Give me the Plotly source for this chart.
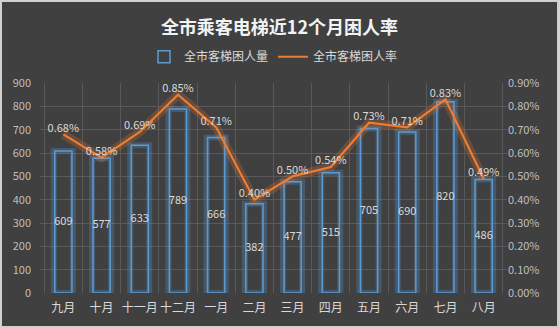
import plotly.graph_objects as go

months = ["九月", "十月", "十一月", "十二月", "一月", "二月", "三月", "四月", "五月", "六月", "七月", "八月"]
trapped_count = [609, 577, 633, 789, 666, 382, 477, 515, 705, 690, 820, 486]
trapped_rate = [0.0068, 0.0058, 0.0069, 0.0085, 0.0071, 0.0040, 0.0050, 0.0054, 0.0073, 0.0071, 0.0083, 0.0049]

FONT = "Noto Sans CJK SC, Microsoft YaHei, sans-serif"
TXT = "#d9d9d9"
BLUE = "#5b9bd5"
ORANGE = "#ed7d31"
GRID = "#595959"

fig = go.Figure()

# bar glow
fig.add_trace(go.Bar(x=months, y=trapped_count, width=0.5, showlegend=False, hoverinfo="skip",
                     marker=dict(color="rgba(0,0,0,0)", line=dict(color="rgba(91,155,213,0.28)", width=6))))
fig.add_trace(go.Bar(x=months, y=trapped_count, width=0.45, name="全市客梯困人量",
                     marker=dict(color="rgba(0,0,0,0)", line=dict(color=BLUE, width=1.5))))
# bar labels centred in bars
fig.add_trace(go.Scatter(x=months, y=[v / 2 for v in trapped_count], mode="text",
                         text=[str(v) for v in trapped_count], showlegend=False, hoverinfo="skip",
                         textfont=dict(color=TXT, size=11, family=FONT)))
# line glow
fig.add_trace(go.Scatter(x=months, y=trapped_rate, yaxis="y2", mode="lines", showlegend=False, hoverinfo="skip",
                         line=dict(color="rgba(237,125,49,0.22)", width=9)))
fig.add_trace(go.Scatter(x=months, y=trapped_rate, yaxis="y2", mode="lines+text", name="全市客梯困人率",
                         text=[f"{v*100:.2f}%" for v in trapped_rate], textposition="top center",
                         textfont=dict(color=TXT, size=11, family=FONT),
                         line=dict(color=ORANGE, width=2.2)))

fig.update_layout(
    width=559, height=328,
    paper_bgcolor="#404040", plot_bgcolor="#404040",
    margin=dict(l=40, r=52, t=83, b=35, autoexpand=False),
    barmode="overlay",
    font=dict(family=FONT, color=TXT, size=11),
    title=dict(text="<b>全市乘客电梯近12个月困人率</b>", x=0.5, xanchor="center", y=0.915, yanchor="middle",
               font=dict(size=18, color="#f2f2f2", family=FONT)),
    legend=dict(orientation="h", x=0.5, xanchor="center", y=1.125, yanchor="middle",
                font=dict(size=12, color=TXT, family=FONT), bgcolor="rgba(0,0,0,0)",
                traceorder="normal"),
    xaxis=dict(type="category", tickson="boundaries", showgrid=True, gridcolor=GRID, gridwidth=1,
               showline=False, zeroline=False, ticks="", tickangle=0, automargin=False,
               ticklabelstandoff=6, tickfont=dict(size=12, color=TXT)),
    yaxis=dict(range=[0, 900], dtick=100, showgrid=True, gridcolor=GRID, zeroline=False, automargin=False,
               tickfont=dict(size=11, color="#bfbfbf"), ticklabelstandoff=8),
    yaxis2=dict(range=[0, 0.009], dtick=0.001, tickformat=".2%", overlaying="y", side="right", automargin=False,
                showgrid=False, zeroline=False, tickfont=dict(size=11, color="#bfbfbf")),
)
fig.add_shape(type="rect", xref="paper", yref="paper", x0=-39/467, x1=1+51/467, y0=-34/210, y1=1+82/210,
              line=dict(color="#d0d0d0", width=2), layer="above")

fig.write_html("out.html")
